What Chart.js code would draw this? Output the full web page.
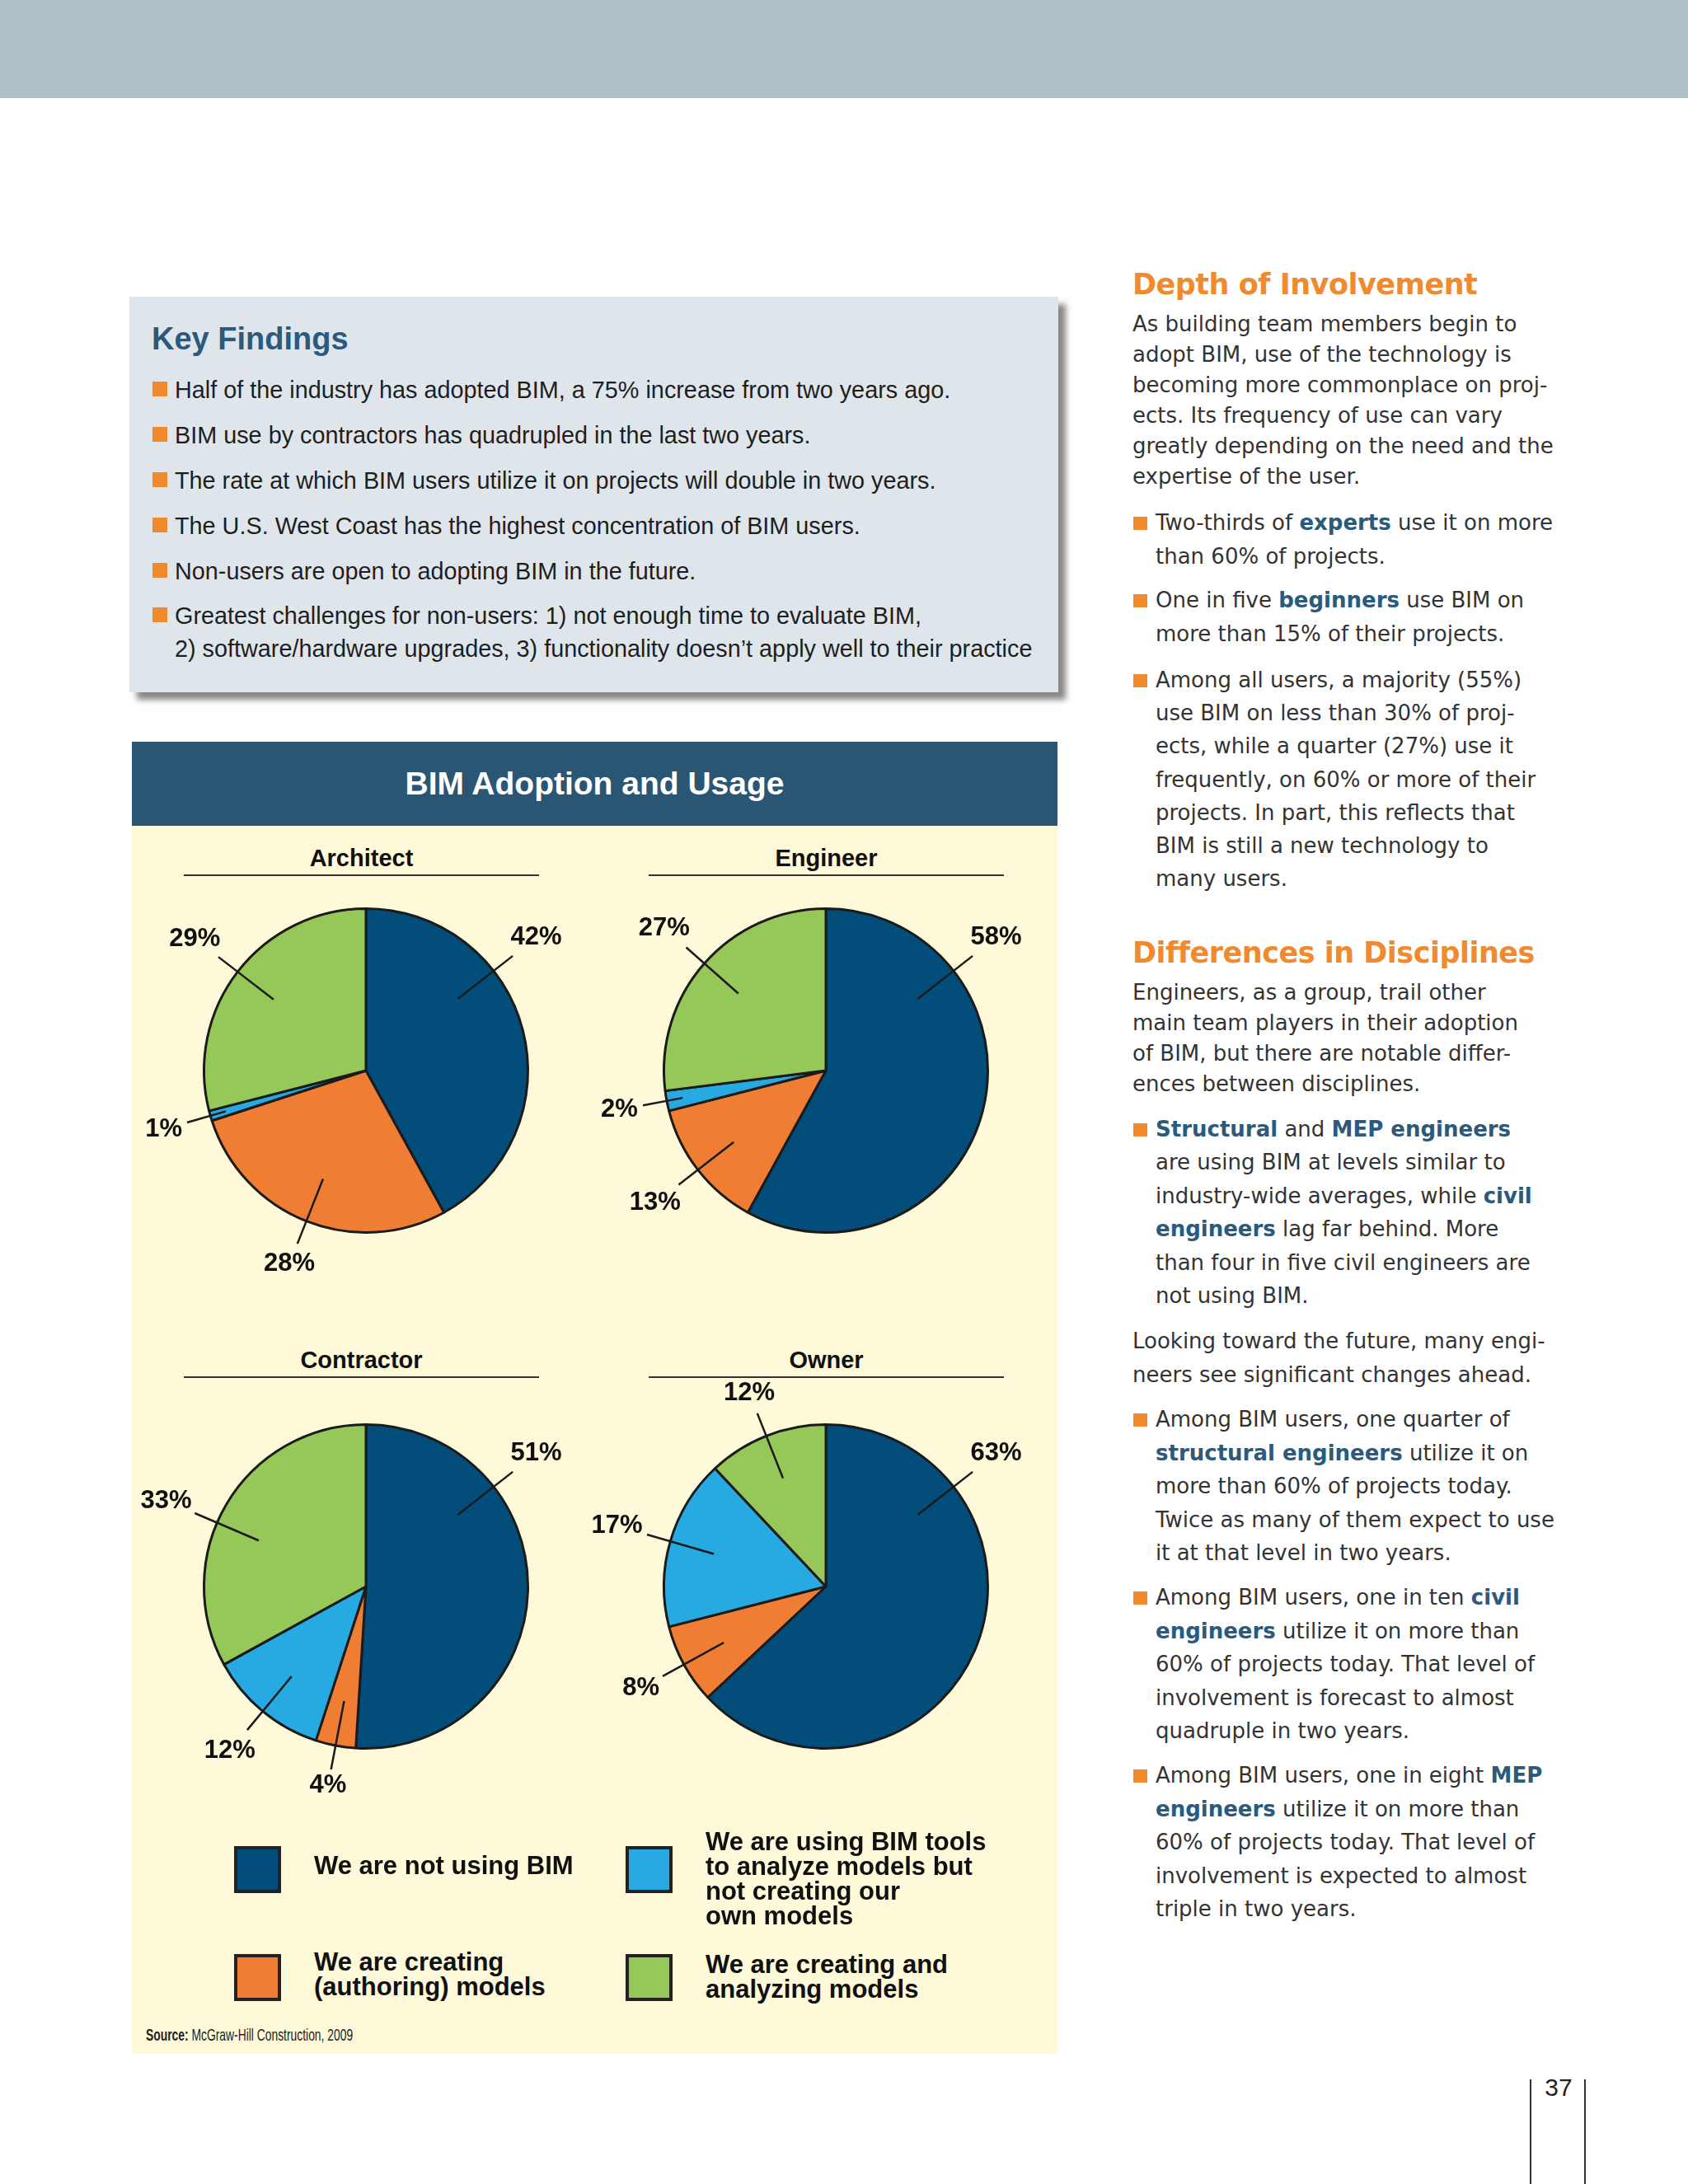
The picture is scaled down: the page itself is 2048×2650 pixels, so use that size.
<!DOCTYPE html>
<html lang="en">
<head>
<meta charset="UTF-8" />
<title>BIM Adoption and Usage</title>
<script src="https://cdn.jsdelivr.net/npm/chart.js"></script>
<style>
  body { margin: 0; width: 2048px; height: 2650px; position: relative; overflow: hidden; background: #fff; font-family: "Liberation Sans", Arial, sans-serif; color: #1e1e1e; }
  .abs { position: absolute; }
  #band { left: 0; top: 0; width: 2048px; height: 119px; background: #adbfc7; }
  #keybox { left: 157px; top: 360px; width: 1127px; height: 480px; background: #dfe6eb; box-shadow: 9px 9px 7px rgba(70,70,70,0.65); }
  #keytitle { left: 184px; top: 390px; font-size: 38px; font-weight: bold; color: #2b5a7c; }
  .kf { left: 212px; font-size: 28.8px; line-height: 40px; white-space: nowrap; }
  .sq { position: absolute; width: 18px; height: 18px; background: #f08a2c; }
  #panel { left: 160px; top: 1002px; width: 1123px; height: 1490px; background: #fefad9; }
  #panelhead { left: 160px; top: 900px; width: 1123px; height: 102px; background: #2b5673; color: #fff; font-size: 39px; font-weight: bold; text-align: center; line-height: 102px; }
  .sub { font-size: 29px; font-weight: bold; text-align: center; border-bottom: 2px solid #333; height: 40px; line-height: 40px; color: #111; }
  canvas { position: absolute; }
  .lbox { position: absolute; width: 49px; height: 49px; border: 4px solid #222; }
  .ltxt { position: absolute; font-size: 31px; font-weight: bold; line-height: 30px; white-space: pre-line; color: #111; }
  #source { left: 177px; top: 2457px; font-size: 21px; transform: scaleX(0.66); transform-origin: left center; white-space: nowrap; color: #222; }
  .rc { left: 1374px; font-family: "DejaVu Sans", sans-serif; font-size: 26px; color: #333; white-space: nowrap; }
  .rc b { color: #2b5a7c; }
  .rh { left: 1374px; font-family: "DejaVu Sans", sans-serif; font-size: 35px; font-weight: bold; letter-spacing: -0.5px; color: #ef8a2e; white-space: nowrap; }
  .bl { left: 1402px; }
  .rsq { position: absolute; width: 17px; height: 16px; background: #f08a2c; }
  #pnum { left: 1860px; top: 2516px; width: 62px; text-align: center; font-size: 30px; color: #222; }
  .vl { position: absolute; top: 2523px; width: 2px; height: 127px; background: #333; }
</style>
</head>
<body>

<div id="band" class="abs"></div>

<div id="keybox" class="abs"></div>
<div id="keytitle" class="abs">Key Findings</div>
<div class="kf abs" style="top:453px">Half of the industry has adopted BIM, a 75% increase from two years ago.</div>
<div class="kf abs" style="top:508px">BIM use by contractors has quadrupled in the last two years.</div>
<div class="kf abs" style="top:563px">The rate at which BIM users utilize it on projects will double in two years.</div>
<div class="kf abs" style="top:618px">The U.S. West Coast has the highest concentration of BIM users.</div>
<div class="kf abs" style="top:673px">Non-users are open to adopting BIM in the future.</div>
<div class="kf abs" style="top:727px">Greatest challenges for non-users: 1) not enough time to evaluate BIM,<br>2) software/hardware upgrades, 3) functionality doesn’t apply well to their practice</div>
<div class="sq" style="left:185px;top:463px"></div>
<div class="sq" style="left:185px;top:518px"></div>
<div class="sq" style="left:185px;top:573px"></div>
<div class="sq" style="left:185px;top:628px"></div>
<div class="sq" style="left:185px;top:683px"></div>
<div class="sq" style="left:185px;top:737px"></div>

<div id="panelhead" class="abs">BIM Adoption and Usage</div>
<div id="panel" class="abs"></div>

<div class="sub abs" style="left:223px;top:1021px;width:431px">Architect</div>
<div class="sub abs" style="left:787px;top:1021px;width:431px">Engineer</div>
<div class="sub abs" style="left:223px;top:1630px;width:431px">Contractor</div>
<div class="sub abs" style="left:787px;top:1630px;width:431px">Owner</div>

<canvas id="c0" width="660" height="660" style="left:114px;top:969px;width:660px;height:660px"></canvas>
<canvas id="c1" width="660" height="660" style="left:672px;top:969px;width:660px;height:660px"></canvas>
<canvas id="c2" width="660" height="660" style="left:114px;top:1595px;width:660px;height:660px"></canvas>
<canvas id="c3" width="660" height="660" style="left:672px;top:1595px;width:660px;height:660px"></canvas>

<div id="legend"></div>

<div id="source" class="abs"><b>Source:</b> McGraw-Hill Construction, 2009</div>

<div class="rh abs" style="top:325px">Depth of Involvement</div>
<div class="rc abs" style="top:375px;line-height:37px">As building team members begin to<br>adopt BIM, use of the technology is<br>becoming more commonplace on proj-<br>ects. Its frequency of use can vary<br>greatly depending on the need and the<br>expertise of the user.</div>
<div class="rc bl abs" style="top:614px;line-height:40.5px">Two-thirds of <b>experts</b> use it on more<br>than 60% of projects.</div>
<div class="rc bl abs" style="top:708px;line-height:40.5px">One in five <b>beginners</b> use BIM on<br>more than 15% of their projects.</div>
<div class="rc bl abs" style="top:805px;line-height:40.2px">Among all users, a majority (55%)<br>use BIM on less than 30% of proj-<br>ects, while a quarter (27%) use it<br>frequently, on 60% or more of their<br>projects. In part, this reflects that<br>BIM is still a new technology to<br>many users.</div>
<div class="rsq" style="left:1375px;top:627px"></div>
<div class="rsq" style="left:1375px;top:721px"></div>
<div class="rsq" style="left:1375px;top:818px"></div>

<div class="rh abs" style="top:1136px">Differences in Disciplines</div>
<div class="rc abs" style="top:1186px;line-height:37px">Engineers, as a group, trail other<br>main team players in their adoption<br>of BIM, but there are notable differ-<br>ences between disciplines.</div>
<div class="rc bl abs" style="top:1350px;line-height:40.4px"><b>Structural</b> and <b>MEP engineers</b><br>are using BIM at levels similar to<br>industry-wide averages, while <b>civil</b><br><b>engineers</b> lag far behind. More<br>than four in five civil engineers are<br>not using BIM.</div>
<div class="rc abs" style="top:1607px;line-height:40.5px">Looking toward the future, many engi-<br>neers see significant changes ahead.</div>
<div class="rc bl abs" style="top:1702px;line-height:40.5px">Among BIM users, one quarter of<br><b>structural engineers</b> utilize it on<br>more than 60% of projects today.<br>Twice as many of them expect to use<br>it at that level in two years.</div>
<div class="rc bl abs" style="top:1918px;line-height:40.5px">Among BIM users, one in ten <b>civil</b><br><b>engineers</b> utilize it on more than<br>60% of projects today. That level of<br>involvement is forecast to almost<br>quadruple in two years.</div>
<div class="rc bl abs" style="top:2134px;line-height:40.5px">Among BIM users, one in eight <b>MEP</b><br><b>engineers</b> utilize it on more than<br>60% of projects today. That level of<br>involvement is expected to almost<br>triple in two years.</div>
<div class="rsq" style="left:1375px;top:1363px"></div>
<div class="rsq" style="left:1375px;top:1715px"></div>
<div class="rsq" style="left:1375px;top:1931px"></div>
<div class="rsq" style="left:1375px;top:2147px"></div>

<div id="pnum" class="abs">37</div>
<div class="vl" style="left:1856px"></div>
<div class="vl" style="left:1922px"></div>

<script>
  // answer categories, in slice order (clockwise from 12 o'clock)
  const categories = [
    "We are not using BIM",
    "We are creating (authoring) models",
    "We are using BIM tools to analyze models but not creating our own models",
    "We are creating and analyzing models"
  ];
  const legendLabels = [
    "We are not using BIM",
    "We are creating\n(authoring) models",
    "We are using BIM tools\nto analyze models but\nnot creating our\nown models",
    "We are creating and\nanalyzing models"
  ];
  const groups = ["Architect", "Engineer", "Contractor", "Owner"];
  const architectValues = [42, 28, 1, 29];
  const engineerValues = [58, 13, 2, 27];
  const contractorValues = [51, 4, 12, 33];
  const ownerValues = [63, 8, 17, 12];
  const groupValues = [architectValues, engineerValues, contractorValues, ownerValues];

  const sliceColors = ['#034d7b', '#ef7e34', '#27aae1', '#95c858'];

  Chart.defaults.font.family = '"Liberation Sans", Arial, sans-serif';

  // percent labels with leader lines
  const calloutPlugin = {
    id: 'callouts',
    afterDatasetsDraw(chart) {
      const ctx = chart.ctx;
      const meta = chart.getDatasetMeta(0);
      const values = chart.data.datasets[0].data;
      ctx.save();
      ctx.font = 'bold 31px "Liberation Sans", Arial, sans-serif';
      ctx.strokeStyle = '#1a1a1a';
      ctx.lineWidth = 2.5;
      ctx.fillStyle = '#111';
      ctx.textAlign = 'center';
      ctx.textBaseline = 'middle';
      meta.data.forEach((arc, i) => {
        const p = arc.getProps(['x', 'y', 'startAngle', 'endAngle', 'outerRadius'], true);
        const mid = (p.startAngle + p.endAngle) / 2;
        const a = Math.min(mid, p.startAngle + 52 * Math.PI / 180);
        const dx = Math.cos(a), dy = Math.sin(a);
        const r0 = p.outerRadius * (values[i] < 3 ? 0.9 : 0.72);
        const r1 = p.outerRadius * 1.15;
        ctx.beginPath();
        ctx.moveTo(p.x + dx * r0, p.y + dy * r0);
        ctx.lineTo(p.x + dx * r1, p.y + dy * r1);
        ctx.stroke();
        const text = values[i] + '%';
        const w = ctx.measureText(text).width;
        const off = 5 + Math.abs(dx) * w / 2 + Math.abs(dy) * 11;
        ctx.fillText(text, p.x + dx * (r1 + off), p.y + dy * (r1 + off));
      });
      ctx.restore();
    }
  };

  groupValues.forEach((vals, k) => {
    new Chart(document.getElementById('c' + k), {
      type: 'pie',
      data: {
        labels: categories,
        datasets: [{
          label: groups[k],
          data: vals,
          backgroundColor: sliceColors,
          borderColor: '#1b1b1b',
          borderWidth: 3
        }]
      },
      options: {
        responsive: false,
        animation: false,
        devicePixelRatio: 1,
        layout: { padding: 132 },
        plugins: { legend: { display: false }, tooltip: { enabled: false } }
      },
      plugins: [calloutPlugin]
    });
  });

  // legend, 2x2
  const legendSpots = [
    { box: [284, 2240], text: [381, 2249] },
    { box: [284, 2371], text: [381, 2366] },
    { box: [759, 2240], text: [856, 2220] },
    { box: [759, 2371], text: [856, 2369] }
  ];
  const legend = document.getElementById('legend');
  legendLabels.forEach((lab, i) => {
    const b = document.createElement('div');
    b.className = 'lbox';
    b.style.left = legendSpots[i].box[0] + 'px';
    b.style.top = legendSpots[i].box[1] + 'px';
    b.style.background = sliceColors[i];
    legend.appendChild(b);
    const t = document.createElement('div');
    t.className = 'ltxt';
    t.style.left = legendSpots[i].text[0] + 'px';
    t.style.top = legendSpots[i].text[1] + 'px';
    t.textContent = lab;
    legend.appendChild(t);
  });
</script>

</body>
</html>
